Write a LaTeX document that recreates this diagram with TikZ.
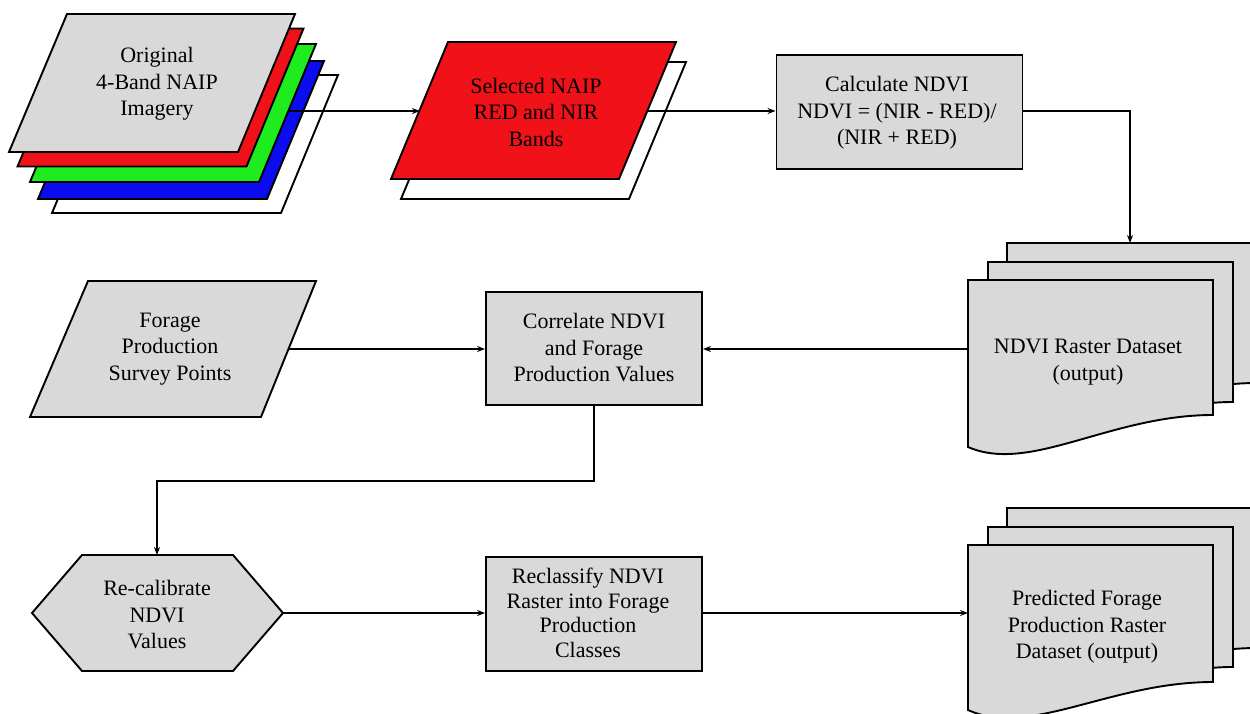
\documentclass[tikz,border=0pt]{standalone}
\usepackage{fontspec}
\setmainfont{Liberation Serif}
\usetikzlibrary{arrows.meta}
\definecolor{boxgray}{RGB}{217,217,217}
\definecolor{bandred}{RGB}{240,18,24}
\definecolor{bandgreen}{RGB}{30,236,30}
\definecolor{bandblue}{RGB}{12,12,240}
\begin{document}
\begin{tikzpicture}[x=1pt,y=-1pt,
  shp/.style={draw=black,line width=1.9pt,line join=miter},
  conn/.style={draw=black,line width=1.4pt,-{Stealth[length=8pt,width=6pt]}},
  plain/.style={draw=black,line width=1.4pt},
  txt/.style={align=center,font=\fontsize{22}{26.5}\selectfont,inner sep=0pt},
  txtb/.style={align=center,font=\fontsize{22}{24.5}\selectfont,inner sep=0pt},
  rbox/.style={shp,fill=boxgray,rectangle,inner sep=0pt}]
\useasboundingbox (0,0) rectangle (1250,714);
\clip (0,0) rectangle (1250,714);
\fill[white] (0,0) rectangle (1250,714);

% ---------- Original 4-band stack ----------
\foreach \c/\dx/\dy in {white/43/61, bandblue/29/47, bandgreen/21/30, bandred/8.5/14.5, boxgray/0/0}
  \path[shp,fill=\c,shift={(\dx,\dy)}] (67,14) -- (295,14) -- (238,152) -- (9,152) -- cycle;
\node[txt] (orig) at (157,84) {Original\\4-Band NAIP\\Imagery};
\coordinate (origout) at (289,111);

% ---------- Selected bands ----------
\path[shp,fill=white,shift={(10,20)}] (448,42) -- (676,42) -- (619,179) -- (391,179) -- cycle;
\path[shp,fill=bandred] (448,42) -- (676,42) -- (619,179) -- (391,179) -- cycle;
\node[txt] (sel) at (536,112) {Selected NAIP\\RED and NIR\\Bands};
\coordinate (selin) at (420,111);
\coordinate (selout) at (647,111);

% ---------- Calculate NDVI ----------
\node[rbox,minimum width=246pt,minimum height=114pt] (calc) at (899.5,112) {};
\node[txt] (calct) at (897,113) {Calculate NDVI\\NDVI = (NIR - RED)/\\(NIR + RED)};

% ---------- NDVI raster dataset (documents) ----------
\path[shp,fill=boxgray,shift={(1007,243)}] (0,0) -- (250,0) -- (250,140) .. controls (142,140) and (62,205) .. (0,177) -- cycle;
\path[shp,fill=boxgray,shift={(988,262)}] (0,0) -- (245,0) -- (245,140) .. controls (142,140) and (62,205) .. (0,177) -- cycle;
\path[shp,fill=boxgray,shift={(968,280)}] (0,0) -- (245,0) -- (245,135) .. controls (142,135) and (62,194) .. (0,167) -- cycle;
\node[txt] (ndvi) at (1088,362) {NDVI Raster Dataset\\(output)};
\coordinate (ndvitop) at (1130,243);
\coordinate (ndvileft) at (968,349);

% ---------- Forage survey points ----------
\path[shp,fill=boxgray] (88,281) -- (316,281) -- (261,417) -- (30,417) -- cycle;
\node[txt] (forage) at (170,349) {Forage\\Production\\Survey Points};
\coordinate (forageout) at (289,349);

% ---------- Correlate ----------
\node[rbox,minimum width=216pt,minimum height=113pt] (corr) at (594,348.5) {};
\node[txt] (corrt) at (594,348) {Correlate NDVI\\and Forage\\Production Values};

% ---------- Re-calibrate (hexagon) ----------
\path[shp,fill=boxgray] (82,555) -- (233,555) -- (283,613) -- (233,671) -- (82,671) -- (32,613) -- cycle;
\node[txt] (recal) at (157,615) {Re-calibrate\\NDVI\\Values};
\coordinate (recaltop) at (157,555);
\coordinate (recalright) at (283,613);

% ---------- Reclassify ----------
\node[rbox,minimum width=216pt,minimum height=114pt] (recl) at (594,614) {};
\node[txtb] (reclt) at (588,613) {Reclassify NDVI\\Raster into Forage\\Production\\Classes};

% ---------- Predicted forage production raster ----------
\path[shp,fill=boxgray,shift={(1007,508)}] (0,0) -- (250,0) -- (250,140) .. controls (142,140) and (62,205) .. (0,177) -- cycle;
\path[shp,fill=boxgray,shift={(988,527)}] (0,0) -- (245,0) -- (245,140) .. controls (142,140) and (62,205) .. (0,177) -- cycle;
\path[shp,fill=boxgray,shift={(968,545)}] (0,0) -- (245,0) -- (245,137) .. controls (142,137) and (62,193) .. (0,165) -- cycle;
\node[txt] (pred) at (1087,627) {Predicted Forage\\Production Raster\\Dataset (output)};
\coordinate (predleft) at (968,613);

% ---------- connectors ----------
\draw[conn] (origout) -- (selin);
\draw[conn] (selout) -- (calc.west |- selout);
\draw[conn] (calc.east |- selout) -| (ndvitop);
\draw[conn] (ndvileft) -- (corr.east |- ndvileft);
\draw[conn] (forageout) -- (corr.west |- forageout);
\draw[conn] (corr.south) |- (157,481) -- (recaltop);
\draw[conn] (recalright) -- (recl.west |- recalright);
\draw[conn] (recl.east |- recalright) -- (predleft);
\end{tikzpicture}
\end{document}
